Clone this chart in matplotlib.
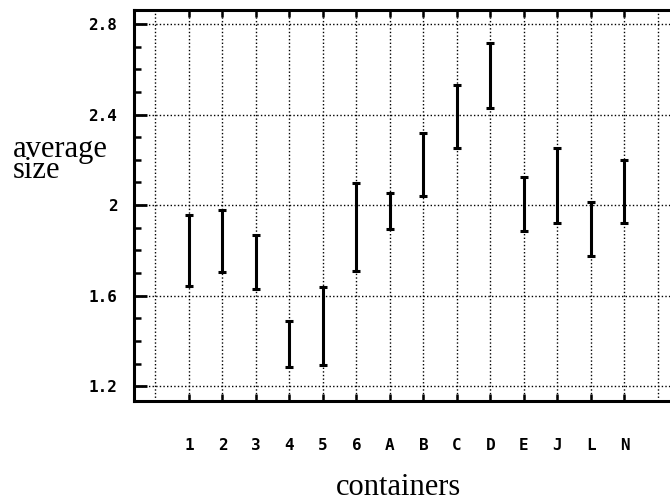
import matplotlib
matplotlib.use("Agg")
import matplotlib.pyplot as plt
from matplotlib.ticker import MultipleLocator, FixedLocator
import numpy as np

categories = ["1", "2", "3", "4", "5", "6", "A", "B", "C", "D", "E", "J", "L", "N"]
low = [1.643, 1.705, 1.631, 1.284, 1.294, 1.711, 1.894, 2.041, 2.254, 2.428, 1.886, 1.923, 1.776, 1.920]
high = [1.957, 1.979, 1.867, 1.490, 1.640, 2.097, 2.055, 2.317, 2.529, 2.715, 2.123, 2.251, 2.014, 2.200]
y_ticks = [1.2, 1.6, 2.0, 2.4, 2.8]
y_tick_labels = ["1.2", "1.6", "2", "2.4", "2.8"]

fig = plt.figure(figsize=(6.70, 5.03), dpi=100)
ax = fig.add_axes([0.2, 0.2034, 0.80, 0.7767])

x = np.arange(1, len(categories) + 1)
low_a = np.array(low)
high_a = np.array(high)
mid = (low_a + high_a) / 2
ax.errorbar(x, mid, yerr=[mid - low_a, high_a - mid], fmt="none", ecolor="black",
            elinewidth=2.2, capsize=3, capthick=2.2, zorder=3)

# gridlines
for gx in range(0, len(categories) + 2):
    ax.axvline(gx, color="black", linestyle=(0, (1, 1.6)), linewidth=1.0, zorder=1)
for gy in y_ticks:
    ax.axhline(gy, color="black", linestyle=(0, (1, 1.6)), linewidth=1.0, zorder=1)

ax.set_xlim(-0.64, 15.36)
ax.set_ylim(1.136, 2.862)

ax.xaxis.set_major_locator(FixedLocator(x))
ax.set_xticklabels(categories)
ax.yaxis.set_major_locator(FixedLocator(y_ticks))
ax.set_yticklabels(y_tick_labels)
ax.yaxis.set_minor_locator(MultipleLocator(0.1))

for lab in ax.get_xticklabels() + ax.get_yticklabels():
    lab.set_fontfamily("DejaVu Sans Mono")
    lab.set_fontweight("bold")
    lab.set_fontsize(11.5)

ax.tick_params(axis="x", which="major", direction="in", length=5, width=1.8,
               top=True, bottom=True, pad=27)
ax.tick_params(axis="y", which="major", direction="in", length=9, width=2,
               left=True, right=False, pad=12)
ax.tick_params(axis="y", which="minor", direction="in", length=5, width=1.8,
               left=True, right=False)

for side in ["left", "bottom", "top"]:
    ax.spines[side].set_linewidth(2.2)
ax.spines["right"].set_visible(False)

fig.text(0.019, 0.682, "average\nsize", family="Liberation Serif", fontsize=22,
         ha="left", va="center", linespacing=0.6)
fig.text(0.595, 0.030, "containers", family="Liberation Serif", fontsize=22,
         ha="center", va="center")

fig.savefig("out.png", dpi=100)
